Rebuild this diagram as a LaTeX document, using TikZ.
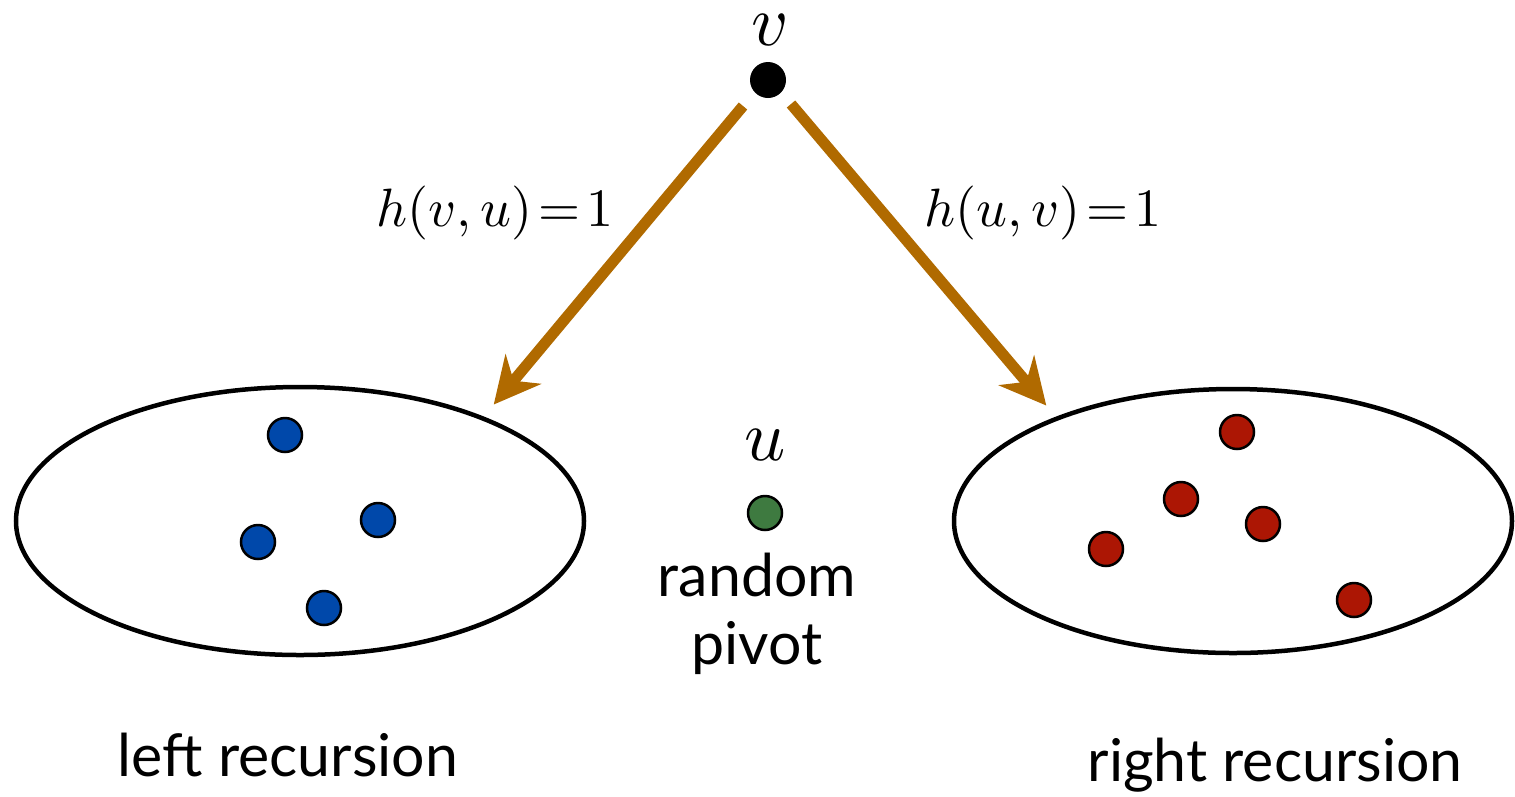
\documentclass[tikz,border=0pt]{standalone}
\usepackage{fontspec}
\setmainfont{Lato}
\usetikzlibrary{arrows.meta}
\definecolor{arrowbrown}{RGB}{176,106,0}
\definecolor{dotblue}{RGB}{0,72,170}
\definecolor{dotgreen}{RGB}{62,122,64}
\definecolor{dotred}{RGB}{172,22,4}
\tikzset{
  dot/.style={circle,draw=black,line width=2.5pt,minimum size=34pt,inner sep=0pt},
  bigarrow/.style={draw=arrowbrown,line width=11pt,-{Stealth[length=46pt,width=46pt,inset=15pt]},shorten >=-2pt},
  blob/.style={draw=black,line width=4.5pt},
  lbl/.style={font=\fontsize{59}{64}\selectfont,inner sep=0pt},
  mlbl/.style={font=\normalsize,scale=5.4,inner sep=0pt},
  vlbl/.style={font=\normalsize,scale=7.2,inner sep=0pt}
}
\begin{document}
\begin{tikzpicture}[x=1pt,y=-1pt]
\useasboundingbox (0,0) rectangle (1515,796);
% ellipses
\draw[blob] (300,521) ellipse [x radius=284, y radius=134];
\draw[blob] (1233,521) ellipse [x radius=279, y radius=132];
% top vertex
\node[circle,fill=black,minimum size=36pt,inner sep=0pt] (v) at (768,80) {};
\node[vlbl] (vl) at (770,30) {$v$};
\coordinate (ls) at (743,106);
\coordinate (lt) at (495,403);
\coordinate (rs) at (791,104);
\coordinate (rt) at (1045,404);
\draw[bigarrow] (ls) -- (lt);
\draw[bigarrow] (rs) -- (rt);
\node[mlbl] (hl) at (495,213) {$h(v,u)\!=\!1$};
\node[mlbl] (hr) at (1043,213) {$h(u,v)\!=\!1$};
% blue dots
\node[dot,fill=dotblue] (b1) at (285,435) {};
\node[dot,fill=dotblue] (b2) at (258,542) {};
\node[dot,fill=dotblue] (b3) at (378,520) {};
\node[dot,fill=dotblue] (b4) at (324,608) {};
% pivot
\node[vlbl] (ul) at (765,445) {$u$};
\node[dot,fill=dotgreen] (u) at (765,513) {};
\node[lbl] (rnd) at (757,575) {random};
\node[lbl] (pv) at (757,648) {pivot};
% red dots
\node[dot,fill=dotred] (r1) at (1237,432) {};
\node[dot,fill=dotred] (r2) at (1181,499) {};
\node[dot,fill=dotred] (r3) at (1263,524) {};
\node[dot,fill=dotred] (r4) at (1106,549) {};
\node[dot,fill=dotred] (r5) at (1354,600) {};
% captions
\node[lbl] (lr) at (288,755) {left recursion};
\node[lbl] (rr) at (1275,765) {right recursion};
\end{tikzpicture}
\end{document}
